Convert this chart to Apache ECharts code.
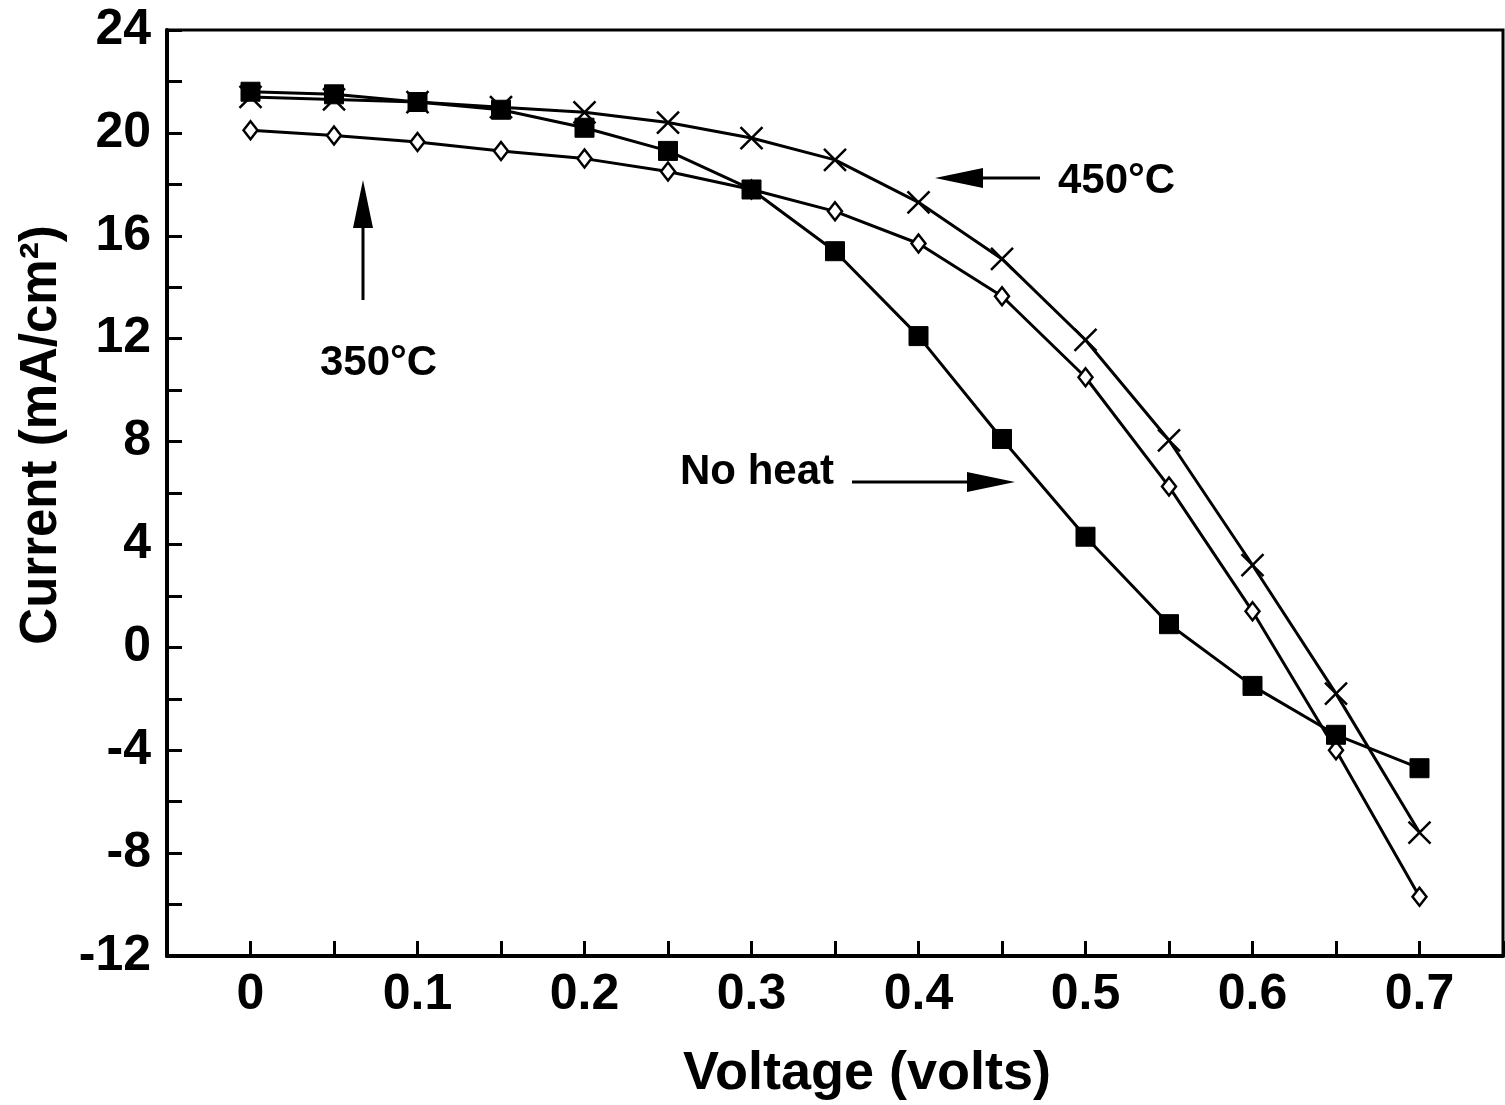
<!DOCTYPE html>
<html>
<head>
<meta charset="utf-8">
<script src="https://cdn.jsdelivr.net/npm/echarts@6/dist/echarts.min.js"></script>
<style>html,body{margin:0;padding:0;background:#fff}#c{width:1505px;height:1105px}</style>
</head>
<body>
<div id="c"></div>
<script>
var voltage = [0, 0.05, 0.1, 0.15, 0.2, 0.25, 0.3, 0.35, 0.4, 0.45, 0.5, 0.55, 0.6, 0.65, 0.7];
var noHeat  = [21.6, 21.5, 21.2, 20.9, 20.2, 19.3, 17.8, 15.4, 12.1, 8.1, 4.3, 0.9, -1.5, -3.4, -4.7];
var t450    = [21.4, 21.3, 21.2, 21.0, 20.8, 20.4, 19.8, 18.95, 17.3, 15.1, 11.95, 8.05, 3.2, -1.8, -7.2];
var t350    = [20.1, 19.9, 19.65, 19.3, 19.0, 18.5, 17.8, 16.95, 15.7, 13.65, 10.5, 6.25, 1.4, -4.0, -9.7];
var xTickLabels = ['0', '0.1', '0.2', '0.3', '0.4', '0.5', '0.6', '0.7'];
var yTickLabels = ['-12', '-8', '-4', '0', '4', '8', '12', '16', '20', '24'];

function pairs(ys) { return voltage.map(function (v, i) { return [v, ys[i]]; }); }

var FONT = '"Liberation Sans", Arial, sans-serif';
var chart = echarts.init(document.getElementById('c'), null, {renderer: 'canvas'});

var lineStyle = {color: '#000', width: 3};
var option = {
  animation: false,
  backgroundColor: '#fff',
  grid: {left: 167, top: 30, right: 2, bottom: 149, containLabel: false, outerBoundsMode: 'none',
         show: true, borderColor: '#000', borderWidth: 3, backgroundColor: 'transparent'},
  xAxis: {
    type: 'value', min: -0.05, max: 0.75, interval: 0.05,
    axisLine: {show: true, onZero: false, lineStyle: {color: '#000', width: 4}},
    axisTick: {show: true, inside: true, length: 15, lineStyle: {color: '#000', width: 3}},
    splitLine: {show: false},
    axisLabel: {
      margin: 14, fontSize: 50, fontWeight: 'bold', color: '#000', fontFamily: FONT, lineHeight: 50,
      formatter: function (v) { var s = String(Math.round(v * 100) / 100); return xTickLabels.indexOf(s) >= 0 ? s : ''; }
    },
    name: 'Voltage (volts)', nameLocation: 'middle', nameGap: 91,
    nameTextStyle: {fontSize: 54, fontWeight: 'bold', color: '#000', fontFamily: FONT, padding: [0, 0, 0, 64]}
  },
  yAxis: {
    type: 'value', min: -12, max: 24, interval: 2,
    axisLine: {show: true, onZero: false, lineStyle: {color: '#000', width: 4}},
    axisTick: {show: true, inside: true, length: 15, lineStyle: {color: '#000', width: 3}},
    splitLine: {show: false},
    axisLabel: {
      margin: 16, fontSize: 50, fontWeight: 'bold', color: '#000', fontFamily: FONT,
      formatter: function (v) { var s = String(Math.round(v)); return yTickLabels.indexOf(s) >= 0 ? s : ''; }
    },
    name: 'Current (mA/cm\u00B2)', nameLocation: 'middle', nameGap: 100, nameRotate: 90,
    nameTextStyle: {fontSize: 51, fontWeight: 'bold', color: '#000', fontFamily: FONT, padding: [0, 0, 0, 116]}
  },
  series: [
    {
      name: '350\u00B0C', type: 'line', data: pairs(t350), lineStyle: lineStyle,
      symbol: 'diamond', symbolSize: [14, 18],
      itemStyle: {color: '#fff', borderColor: '#000', borderWidth: 2.5}, z: 3
    },
    {
      name: '450\u00B0C', type: 'line', data: pairs(t450), lineStyle: lineStyle,
      symbol: 'path://M0,0L10,10M10,0L0,10', symbolSize: 22,
      itemStyle: {color: 'none', borderColor: '#000', borderWidth: 2.5}, z: 4
    },
    {
      name: 'No heat', type: 'line', data: pairs(noHeat), lineStyle: lineStyle,
      symbol: 'rect', symbolSize: 19,
      itemStyle: {color: '#000', borderColor: '#000', borderWidth: 1}, z: 5
    }
  ],
  graphic: [
    {type: 'text', left: 1058, top: 160, style: {text: '450\u00B0C', font: 'bold 42px ' + FONT, fill: '#000'}},
    {type: 'line', shape: {x1: 1040, y1: 178, x2: 975, y2: 178}, style: {stroke: '#000', lineWidth: 3}},
    {type: 'polygon', shape: {points: [[935, 178], [983, 168], [983, 188]]}, style: {fill: '#000'}},

    {type: 'text', left: 320, top: 342, style: {text: '350\u00B0C', font: 'bold 42px ' + FONT, fill: '#000'}},
    {type: 'line', shape: {x1: 363, y1: 300, x2: 363, y2: 220}, style: {stroke: '#000', lineWidth: 3}},
    {type: 'polygon', shape: {points: [[363, 180], [353, 228], [373, 228]]}, style: {fill: '#000'}},

    {type: 'text', left: 680, top: 451, style: {text: 'No heat', font: 'bold 42px ' + FONT, fill: '#000'}},
    {type: 'line', shape: {x1: 852, y1: 482, x2: 975, y2: 482}, style: {stroke: '#000', lineWidth: 3}},
    {type: 'polygon', shape: {points: [[1015, 482], [967, 472], [967, 492]]}, style: {fill: '#000'}}
  ]
};
chart.setOption(option);
</script>
</body>
</html>
